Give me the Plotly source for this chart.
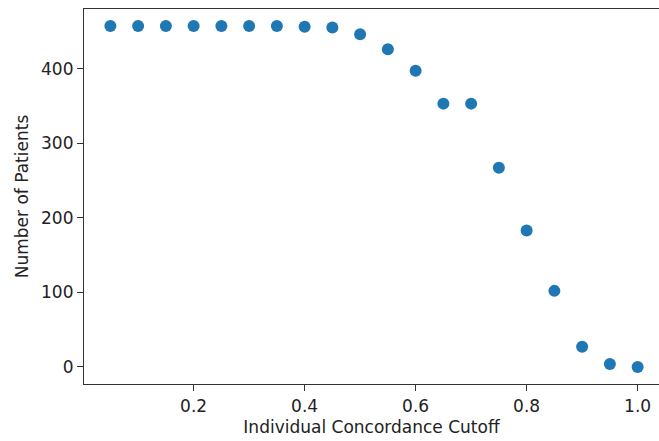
import plotly.graph_objects as go

cutoffs = [0.05, 0.10, 0.15, 0.20, 0.25, 0.30, 0.35, 0.40, 0.45, 0.50,
           0.55, 0.60, 0.65, 0.70, 0.75, 0.80, 0.85, 0.90, 0.95, 1.00]
patients = [457, 457, 457, 457, 457, 457, 457, 456, 455, 446,
            426, 397, 353, 353, 267, 183, 102, 27, 4, 0]

x_ticks = [0.2, 0.4, 0.6, 0.8, 1.0]
x_tick_labels = ["0.2", "0.4", "0.6", "0.8", "1.0"]
y_ticks = [0, 100, 200, 300, 400]

fig = go.Figure(go.Scatter(
    x=cutoffs, y=patients, mode="markers",
    marker=dict(color="#1f77b4", size=12, line=dict(width=0)),
))

font = dict(family="DejaVu Sans", size=17, color="#222")
fig.update_layout(
    width=659, height=441,
    margin=dict(l=84, r=0, t=9, b=57),
    paper_bgcolor="white", plot_bgcolor="white",
    showlegend=False,
    font=font,
)
fig.update_xaxes(
    range=[0.0025, 1.0385],
    tickvals=x_ticks, ticktext=x_tick_labels,
    showgrid=False, zeroline=False,
    showline=True, linecolor="#333", linewidth=1.2, mirror=True,
    ticks="outside", ticklen=6, tickcolor="#333",
    title=dict(text="Individual Concordance Cutoff", font=font, standoff=6),
)
fig.update_yaxes(
    range=[-22.85, 479.85],
    tickvals=y_ticks,
    showgrid=False, zeroline=False,
    showline=True, linecolor="#333", linewidth=1.2,
    ticks="outside", ticklen=6, tickcolor="#333",
    title=dict(text="Number of Patients", font=font, standoff=8),
)
fig.write_html("out.html")
